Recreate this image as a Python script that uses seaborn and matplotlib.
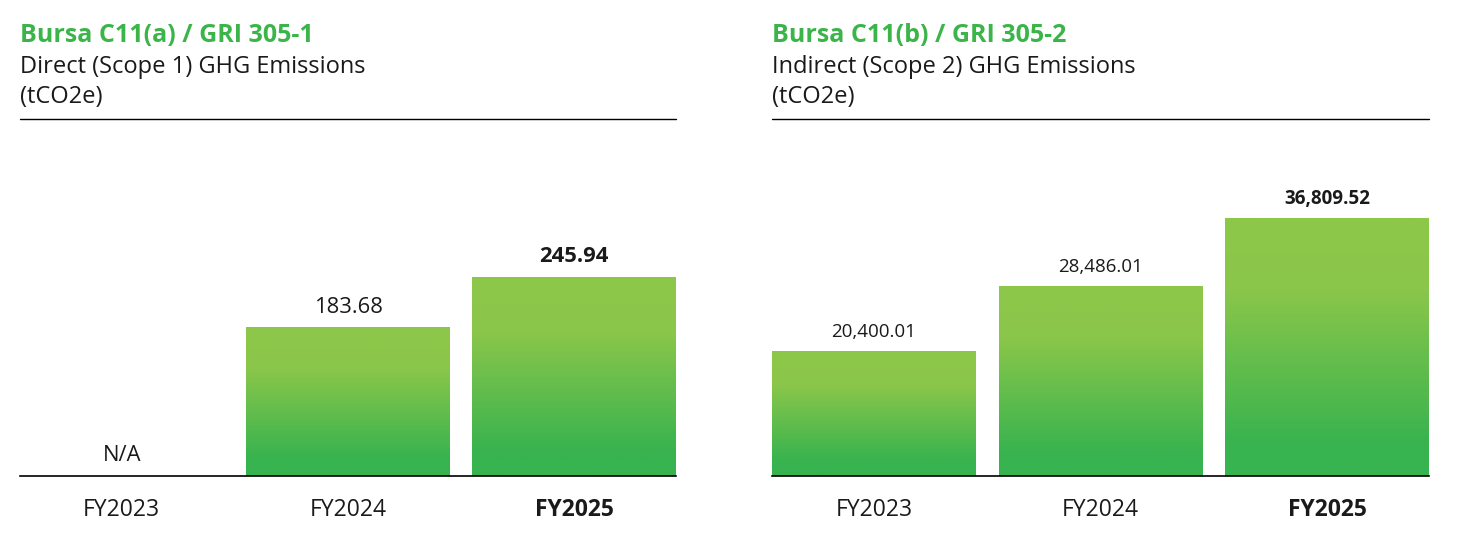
import numpy as np
import pandas as pd
import matplotlib
matplotlib.use("Agg")
import matplotlib.pyplot as plt
import seaborn as sns
from matplotlib.colors import LinearSegmentedColormap
from matplotlib.lines import Line2D

# ---- data ----
years = ["FY2023", "FY2024", "FY2025"]
scope1 = [np.nan, 183.68, 245.94]
scope2 = [20400.01, 28486.01, 36809.52]
scope1_labels = ["N/A", "183.68", "245.94"]
scope2_labels = ["20,400.01", "28,486.01", "36,809.52"]
codes = ["Bursa C11(a) / GRI 305-1", "Bursa C11(b) / GRI 305-2"]
line1 = ["Direct (Scope 1) GHG Emissions", "Indirect (Scope 2) GHG Emissions"]
line2 = ["(tCO2e)", "(tCO2e)"]

sns.set_theme(style="white")
plt.rcParams["font.family"] = ["Open Sans", "DejaVu Sans"]

W, H = 1460, 538
fig = plt.figure(figsize=(W / 100, H / 100), dpi=100)

def rect(x0, x1, ytop, ybot):
    return [x0 / W, 1 - ybot / H, (x1 - x0) / W, (ybot - ytop) / H]

cmap = LinearSegmentedColormap.from_list(
    "g", [(0.0, "#37B34F"), (0.12, "#38B34F"), (0.72, "#8AC64A"), (1.0, "#8EC84A")])
grad = np.linspace(0, 1, 256).reshape(-1, 1)

GREEN = "#3BB54A"
TXT = "#1a1a1a"

panels = [
    dict(vals=scope1, labels=scope1_labels, ylim=(0, 440), x0=20, x1=676, vsize=15.8),
    dict(vals=scope2, labels=scope2_labels, ylim=(4860, 49030), x0=772, x1=1429, vsize=13.5),
]

for i, p in enumerate(panels):
    ax = fig.add_axes(rect(p["x0"], p["x1"], 120, 476))
    df = pd.DataFrame({"year": years, "value": p["vals"]})
    sns.barplot(data=df, x="year", y="value", ax=ax, width=0.9, color="#8DC849", saturation=1)
    tops = {}
    for patch in list(ax.patches):
        h = patch.get_height()
        bx, by = patch.get_x(), patch.get_y()
        bw = patch.get_width()
        idx = int(round(bx + bw / 2))
        if np.isnan(h):
            continue
        tops[idx] = (bx + bw / 2, by + h)
        patch.set_facecolor("none")
        patch.set_edgecolor("none")
        im = ax.imshow(grad, origin="lower", cmap=cmap, aspect="auto",
                       extent=(bx, bx + bw, max(by, p["ylim"][0]), by + h), zorder=2)
        im.set_clip_path(patch)
    ax.set_xlim(-0.45, 2.45)
    ax.set_ylim(*p["ylim"])
    for j, lab in enumerate(p["labels"]):
        cx, top = tops.get(j, (j, p["ylim"][0]))
        ax.annotate(lab, (cx, top), xytext=(0, 7), textcoords="offset points",
                    ha="center", va="bottom", fontsize=p["vsize"], color=TXT,
                    fontweight="bold" if j == 2 else "normal")
    ax.set_xlabel("")
    ax.set_ylabel("")
    ax.set_yticks([])
    ax.tick_params(axis="x", length=0, pad=16, labelsize=16.5, labelcolor=TXT)
    for j, t in enumerate(ax.get_xticklabels()):
        if j == 2:
            t.set_fontweight("bold")
    for s in ["top", "left", "right"]:
        ax.spines[s].set_visible(False)
    ax.spines["bottom"].set_color("black")
    ax.spines["bottom"].set_linewidth(1.2)
    ax.spines["bottom"].set_zorder(10)

    fig.text(p["x0"] / W, 1 - 42 / H, codes[i], fontsize=18, fontweight="bold",
             color=GREEN, ha="left", va="baseline")
    fig.text(p["x0"] / W, 1 - 73 / H, line1[i], fontsize=17, color=TXT, ha="left", va="baseline")
    fig.text(p["x0"] / W, 1 - 103 / H, line2[i], fontsize=17, color=TXT, ha="left", va="baseline")
    fig.add_artist(Line2D([p["x0"] / W, p["x1"] / W], [1 - 119 / H, 1 - 119 / H],
                          color="black", linewidth=1.0, transform=fig.transFigure))

fig.savefig("out.png", dpi=100)
